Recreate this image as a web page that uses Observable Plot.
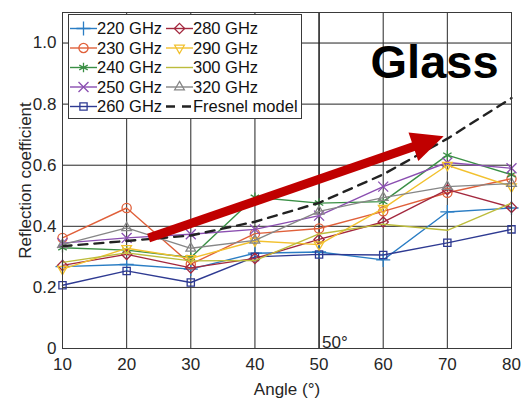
<!DOCTYPE html>
<html><head><meta charset="utf-8">
<script src="https://cdn.jsdelivr.net/npm/d3@7"></script>
<script src="https://cdn.jsdelivr.net/npm/@observablehq/plot@0.6"></script>
<style>
body{margin:0;background:#fff;}
#wrap{position:relative;width:522px;height:402px;font-family:"Liberation Sans",Arial,sans-serif;}
#legend{position:absolute;left:68px;top:14px;}
</style></head><body><div id="wrap"></div>
<script>
// ---- data ----
const angles = [10, 20, 30, 40, 50, 60, 70, 80];
const r220 = [0.268, 0.275, 0.260, 0.312, 0.316, 0.290, 0.447, 0.460];
const r230 = [0.362, 0.460, 0.276, 0.376, 0.393, 0.449, 0.510, 0.556];
const r240 = [0.330, 0.322, 0.298, 0.495, 0.476, 0.481, 0.633, 0.569];
const r250 = [0.345, 0.362, 0.374, 0.390, 0.435, 0.530, 0.609, 0.590];
const r260 = [0.207, 0.254, 0.216, 0.300, 0.308, 0.306, 0.346, 0.390];
const r280 = [0.272, 0.308, 0.264, 0.295, 0.357, 0.414, 0.520, 0.462];
const r290 = [0.260, 0.328, 0.295, 0.352, 0.340, 0.459, 0.600, 0.530];
const r300 = [0.282, 0.313, 0.287, 0.288, 0.375, 0.407, 0.387, 0.476];
const r320 = [0.340, 0.395, 0.328, 0.354, 0.449, 0.494, 0.530, 0.540];
const fresnel = [0.335, 0.352, 0.370, 0.415, 0.477, 0.570, 0.687, 0.820];
const seriesNames = ["220 GHz", "230 GHz", "240 GHz", "250 GHz", "260 GHz", "280 GHz", "290 GHz", "300 GHz", "320 GHz"];
const fresnelName = "Fresnel model";
const xTicks = [10, 20, 30, 40, 50, 60, 70, 80];
const yTicks = [0, 0.2, 0.4, 0.6, 0.8, 1.0];
const arrowStart = [23.5, 0.36];
const arrowEnd = [69.5, 0.693];
const materialLabel = ["Glass"];
const materialPos = [68.0, 0.935];
const markAngle = [50];
const markAngleLabel = ["50°"];

// ---- styles ----
const styles = [
  {color: "#2a7dc4", symbol: "plus", rotate: 0},
  {color: "#e0603a", symbol: "circle", rotate: 0},
  {color: "#3a8f45", symbol: "asterisk", rotate: 0},
  {color: "#8a4eb0", symbol: "times", rotate: 0},
  {color: "#2e3a92", symbol: "square2", rotate: 0},
  {color: "#a3283e", symbol: "diamond2", rotate: 0},
  {color: "#f2c12e", symbol: "triangle2", rotate: 180},
  {color: "#bcbc3c", symbol: null, rotate: 0},
  {color: "#868686", symbol: "triangle2", rotate: 0}
];
const valueArrays = [r220, r230, r240, r250, r260, r280, r290, r300, r320];
const series = seriesNames.map((name, k) => ({name, values: valueArrays[k], ...styles[k]}));

const font = '"Liberation Sans", Arial, sans-serif';
const marks = [
  Plot.gridX(xTicks, {stroke: "#dcdcdc", strokeOpacity: 1}),
  Plot.gridY(yTicks, {stroke: "#dcdcdc", strokeOpacity: 1}),
  Plot.axisX(xTicks, {tickSize: 0, tickPadding: 9, label: "Angle (°)", labelAnchor: "center", labelOffset: 46, labelArrow: "none", fill: "#262626"}),
  Plot.axisY(yTicks, {tickSize: 0, tickPadding: 6, tickFormat: d => d === 0 ? "0" : d.toFixed(1), label: "Reflection coefficient", labelAnchor: "center", labelOffset: 44, labelArrow: "none", fill: "#262626"}),
  Plot.tickX(xTicks, {x: d => d, y1: 0, y2: 0.018, stroke: "#333"}),
  Plot.tickY(yTicks, {y: d => d, x1: 10, x2: 10.8, stroke: "#333"}),
  Plot.ruleX(markAngle, {stroke: "#111", strokeWidth: 1})
];
for (const s of series) {
  const rows = angles.map((a, i) => ({angle: a, value: s.values[i]}));
  marks.push(Plot.line(rows, {x: "angle", y: "value", stroke: s.color, strokeWidth: 1.4}));
  if (s.symbol) marks.push(Plot.dot(rows, {x: "angle", y: "value", stroke: s.color, fill: "none", symbol: s.symbol, r: 4.6, rotate: s.rotate, strokeWidth: 1.3}));
}
marks.push(Plot.line(angles.map((a, i) => ({angle: a, value: fresnel[i]})), {x: "angle", y: "value", stroke: "#222", strokeWidth: 2.4, strokeDasharray: "9,7"}));
// red arrow drawn through the plot's scales
marks.push((index, scales) => {
  const x1 = scales.x(arrowStart[0]), y1 = scales.y(arrowStart[1]);
  const x2 = scales.x(arrowEnd[0]), y2 = scales.y(arrowEnd[1]);
  const ang = Math.atan2(y2 - y1, x2 - x1);
  const hl = 32, hw = 15;
  const bx = x2 - hl * Math.cos(ang), by = y2 - hl * Math.sin(ang);
  const px = -Math.sin(ang), py = Math.cos(ang);
  const g = d3.create("svg:g");
  g.append("line").attr("x1", x1).attr("y1", y1).attr("x2", bx + 2 * Math.cos(ang)).attr("y2", by + 2 * Math.sin(ang))
    .attr("stroke", "#c00000").attr("stroke-width", 9);
  g.append("polygon").attr("points", [[x2, y2], [bx + px * hw, by + py * hw], [bx - px * hw, by - py * hw]].map(p => p.join(",")).join(" "))
    .attr("fill", "#c00000");
  return g.node();
});
marks.push(Plot.text(materialLabel, {x: () => materialPos[0], y: () => materialPos[1], text: d => d, fontSize: 47, fontWeight: "bold", fill: "#000"}));
marks.push(Plot.text(markAngleLabel, {x: () => markAngle[0], y: () => 0, text: d => d, textAnchor: "start", lineAnchor: "bottom", dx: 3, dy: -1, fontSize: 17, fill: "#262626"}));
marks.push(Plot.frame({stroke: "#3a3a3a", strokeWidth: 1}));

const chart = Plot.plot({
  width: 522, height: 402,
  marginLeft: 62, marginRight: 11, marginTop: 12, marginBottom: 54,
  style: {fontFamily: font, fontSize: "17px", color: "#262626", background: "white"},
  x: {domain: [10, 80]},
  y: {domain: [0, 1.1]},
  marks
});
const wrap = document.getElementById("wrap");
wrap.appendChild(chart);

// ---- legend overlay ----
const W = 234, H = 105;
const leg = d3.create("svg").attr("id", "legend").attr("width", W).attr("height", H)
  .style("position", "absolute").style("left", "68px").style("top", "14px");
leg.append("rect").attr("x", 0.5).attr("y", 0.5).attr("width", W - 1).attr("height", H - 1).attr("fill", "white").attr("stroke", "#3a3a3a");
const symMap = {plus: d3.symbolPlus, circle: d3.symbolCircle, asterisk: d3.symbolAsterisk, times: d3.symbolTimes, square2: d3.symbolSquare2, diamond2: d3.symbolDiamond2, triangle2: d3.symbolTriangle2};
const entries = [...series, {name: fresnelName, color: "#222", dashed: true}];
entries.forEach((e, k) => {
  const col = k < 5 ? 0 : 1, row = k % 5;
  const lx = col === 0 ? 2 : 98, cy = 14.5 + row * 19.5;
  const g = leg.append("g");
  g.append("line").attr("x1", lx).attr("x2", lx + 27).attr("y1", cy).attr("y2", cy)
    .attr("stroke", e.color).attr("stroke-width", e.dashed ? 2.4 : 1.4).attr("stroke-dasharray", e.dashed ? "9,7" : null);
  if (e.symbol) g.append("path").attr("d", d3.symbol(symMap[e.symbol], 4.6 * 4.6 * Math.PI)())
    .attr("transform", `translate(${lx + 13.5},${cy}) rotate(${e.rotate})`).attr("fill", "none").attr("stroke", e.color).attr("stroke-width", 1.3);
  g.append("text").attr("x", lx + 27).attr("y", cy).attr("dy", "0.35em").attr("font-family", font).attr("font-size", 16.5).attr("fill", "#111").text(e.name);
});
wrap.appendChild(leg.node());
</script></body></html>
